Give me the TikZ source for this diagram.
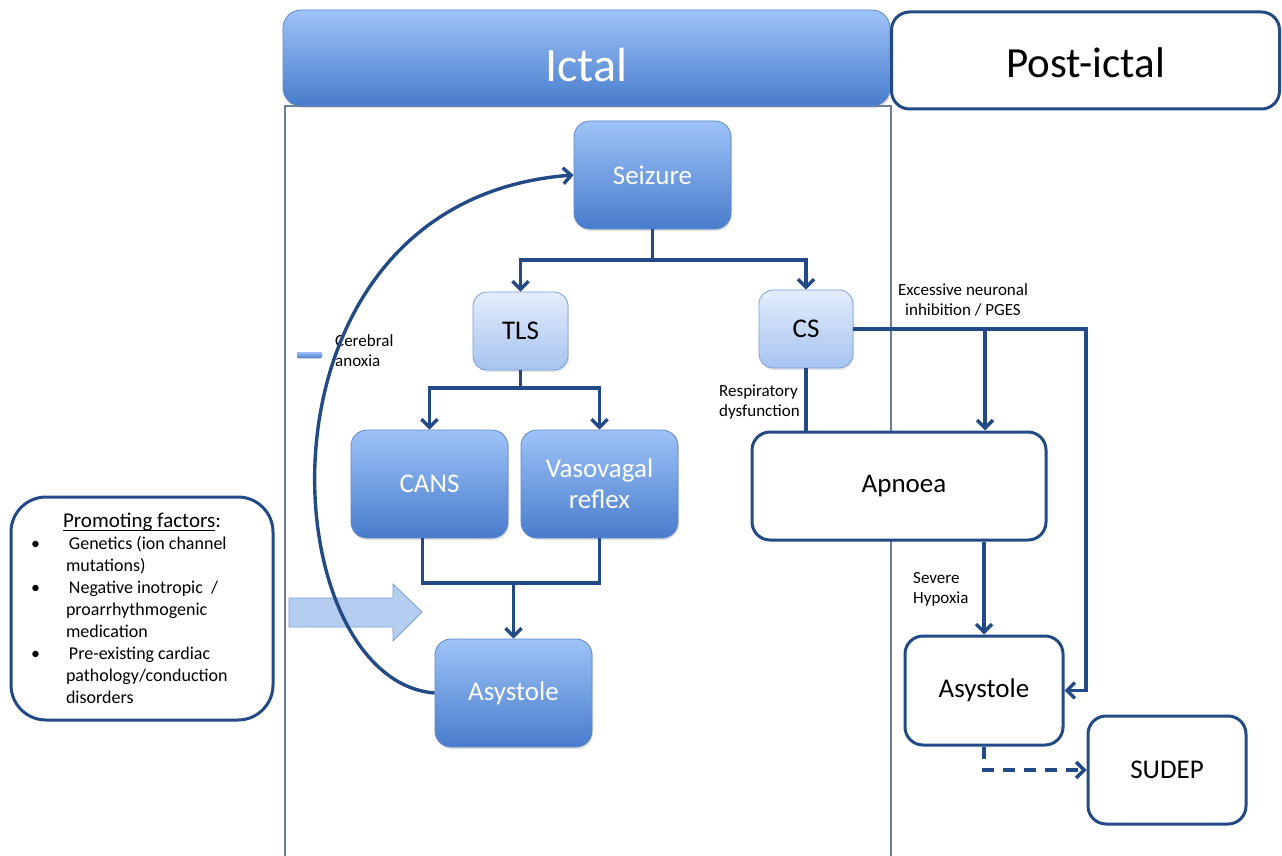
\documentclass[tikz,border=0pt]{standalone}
\usepackage{fontspec}
\setmainfont{Carlito}
\usetikzlibrary{arrows.meta,shadows}
\definecolor{linecol}{RGB}{34,74,135}
\definecolor{darktop}{RGB}{158,195,248}
\definecolor{darkbot}{RGB}{72,124,204}
\definecolor{darkedge}{RGB}{95,135,200}
\definecolor{lighttop}{RGB}{228,237,252}
\definecolor{lightbot}{RGB}{166,195,240}
\definecolor{lightedge}{RGB}{120,160,215}
\definecolor{panelcol}{RGB}{105,125,160}
\definecolor{blockcol}{RGB}{180,205,240}
\newsavebox{\lowbox}
\newcommand{\lowline}[1]{\leavevmode\sbox{\lowbox}{#1}\rlap{\rule[-3pt]{\wd\lowbox}{0.9pt}}\usebox{\lowbox}}
\begin{document}
\begin{tikzpicture}[x=1pt,y=-1pt,
        darkbox/.style={rounded corners=16pt,top color=darktop,bottom color=darkbot,draw=darkedge,line width=0.8pt,text=white,minimum width=157pt,minimum height=108pt,inner sep=0pt,align=center,font=\fontsize{27}{31}\selectfont,drop shadow={opacity=0.25,shadow xshift=1pt,shadow yshift=-2pt}},
        lightbox/.style={rounded corners=14pt,top color=lighttop,bottom color=lightbot,draw=lightedge,line width=0.8pt,minimum width=95pt,minimum height=78pt,inner sep=0pt,font=\fontsize{27}{31}\selectfont,drop shadow={opacity=0.2,shadow xshift=1pt,shadow yshift=-2pt}},
        whitebox/.style={rounded corners=18pt,fill=white,draw=linecol,line width=3pt,minimum width=157pt,minimum height=108pt,inner sep=0pt,font=\fontsize{27}{31}\selectfont},
        flow/.style={draw=linecol,line width=3.4pt,-{Straight Barb[length=8pt,width=16pt]}},
        plain/.style={draw=linecol,line width=3.4pt},
        note/.style={font=\fontsize{17}{20}\selectfont,inner sep=0pt}]
    \useasboundingbox (0,0) rectangle (1282,856);
    \draw[panelcol,line width=1.4pt] (285,856) -- (285,106) -- (891,106) -- (891,856);
    \node[darkbox,minimum width=607pt,minimum height=96pt,rounded corners=18pt,font=\fontsize{48}{50}\selectfont,text height=47pt,text depth=0pt] (ictal) at (586.5,58) {Ictal};
    \node[whitebox,minimum width=388pt,minimum height=97pt,font=\fontsize{43}{48}\selectfont,text height=34pt,text depth=0pt] (postictal) at (1085.5,60.5) {Post-ictal};
    \node[darkbox] (seizure) at (652.5,175) {Seizure};
    \node[lightbox] (tls) at (520.5,331) {TLS};
    \node[lightbox,minimum width=94pt] (cs) at (806,329) {CS};
    \node[darkbox] (cans) at (429.5,484) {CANS};
    \node[darkbox] (vaso) at (599.5,484) {Vasovagal\\reflex};
    \node[darkbox] (asys) at (513.5,693) {Asystole};
    \node[whitebox,minimum width=294pt] (apnoea) at (899,486) {\hspace{10pt}Apnoea};
    \node[whitebox,minimum width=158pt,minimum height=109pt] (asys2) at (984,690.5) {Asystole};
    \node[whitebox,minimum width=158pt] (sudep) at (1167,770) {SUDEP};
    \node[whitebox,minimum width=262pt,minimum height=223pt,rounded corners=35pt] (promo) at (142,608.5) {%
        \begin{minipage}{250pt}\fontsize{18}{22}\selectfont
        \centering{\fontsize{21}{22}\selectfont\lowline{Promoting factors}:}\par
        \raggedright
        \begin{list}{\textbullet}{\setlength{\leftmargin}{49pt}\setlength{\labelsep}{29pt}\setlength{\labelwidth}{6pt}\setlength{\topsep}{0pt}\setlength{\itemsep}{0pt}\setlength{\parsep}{0pt}\setlength{\partopsep}{0pt}}
        \item Genetics (ion channel\newline mutations)
        \item Negative inotropic~~/\newline proarrhythmogenic\newline medication
        \item Pre-existing cardiac\newline pathology/conduction\newline disorders
        \end{list}
        \end{minipage}};
    \node[note,align=left,anchor=west] (anoxia) at (335,350.5) {Cerebral\\anoxia};
    \node[note,align=center] (pges) at (963,300) {Excessive neuronal\\inhibition / PGES};
    \node[note,align=left,anchor=east] (resp) at (800,402) {Respiratory\\dysfunction};
    \node[note,align=left,anchor=west] (hypoxia) at (913,589) {Severe\\Hypoxia};
    \fill[rounded corners=2pt,top color=darktop,bottom color=darkbot] (297,352) rectangle (322,358);
    \draw[fill=blockcol,draw=lightedge,line width=0.8pt] (289,598) -- (393,598) -- (393,584) -- (422,612) -- (393,641) -- (393,627) -- (289,627) -- cycle;
    \coordinate (split) at (652.5,260);
    \coordinate (tlsjoin) at (520.5,388);
    \coordinate (lowjoin) at (513.5,583);
    \coordinate (rcorner) at (1086,329);
    \coordinate (pgesdrop) at (985,329);
    \draw[plain] (seizure.south) -- (split);
    \draw[flow] (split) -| (tls.north);
    \draw[flow] (split) -| (cs.north);
    \draw[plain] (tls.south) -- (tlsjoin);
    \draw[flow] (tlsjoin) -| (cans.north);
    \draw[flow] (tlsjoin) -| (vaso.north);
    \draw[plain] ([xshift=-7pt]cans.south) |- (lowjoin) -| (vaso.south);
    \draw[flow] (lowjoin) -- (asys.north);
    \draw[flow] (asys.west) .. controls (270,680) and (240,200) .. (seizure.west);
    \draw[plain] (cs.south) -- (cs.south |- apnoea.north);
    \draw[flow] (cs.east) -- (rcorner) |- (asys2.east);
    \draw[flow] (pgesdrop) -- (pgesdrop |- apnoea.north);
    \draw[flow] (asys2.north |- apnoea.south) -- (asys2.north);
    \draw[flow,dash pattern=on 12pt off 9pt] (asys2.south) |- (sudep.west);
\end{tikzpicture}
\end{document}
